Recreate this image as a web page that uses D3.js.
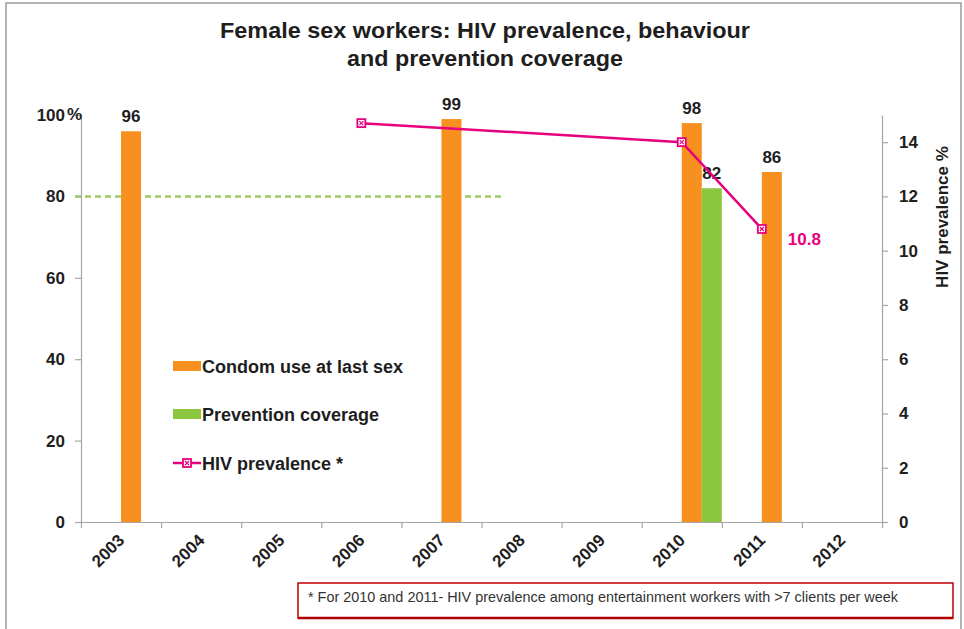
<!DOCTYPE html>
<html>
<head>
<meta charset="utf-8">
<script src="https://cdn.jsdelivr.net/npm/d3@7"></script>
<style>
  html, body { margin: 0; padding: 0; background: #fff; }
  svg { display: block; font-family: "Liberation Sans", Arial, sans-serif; }
</style>
</head>
<body>
<svg id="chart" width="964" height="629"></svg>
<script>
// ---- data ----
const years = ["2003","2004","2005","2006","2007","2008","2009","2010","2011","2012"];
const condomYears = ["2003","2007","2010","2011"];
const condomValues = [96, 99, 98, 86];
const coverageYears = ["2010"];
const coverageValues = [82];
const hivYears = ["2006","2010","2011"];
const hivValues = [14.7, 14.0, 10.8];
const targetValue = 80;
const leftTicks = [0, 20, 40, 60, 80, 100];
const rightTicks = [0, 2, 4, 6, 8, 10, 12, 14];
const titleLines = ["Female sex workers: HIV prevalence, behaviour", "and prevention coverage"];
const legendLabels = ["Condom use at last sex", "Prevention coverage", "HIV prevalence *"];
const footnote = "* For 2010 and 2011- HIV prevalence among entertainment workers with >7 clients per week";

(function () {
// ---- colours ----
const orange = "#F7901E", green = "#8CC63F", pink = "#E6007E", textCol = "#1e1e1e", axisCol = "#a6a6a6";

const svg = d3.select("#chart");
const pLeft = 81, pRight = 882, pBottom = 522, pTop = 115;

const x = d3.scaleBand().domain(years).range([pLeft, pRight]).padding(0);
const xEdge = d3.scaleLinear().domain([0, years.length]).range([pLeft, pRight]);
const yL = d3.scaleLinear().domain([0, 100]).range([pBottom, pTop]);
const yR = d3.scaleLinear().domain([0, 15]).range([pBottom, pTop]);
const bw = x.bandwidth() / 4;

// outer frame
svg.append("rect").attr("x", 6).attr("y", 3).attr("width", 955).attr("height", 660)
  .attr("fill", "none").attr("stroke", "#9a9a9a").attr("stroke-width", 1.5);

// title
const titleLens = [530, 276];
svg.append("g").selectAll("text").data(titleLines).join("text")
  .attr("x", 485).attr("y", (d, i) => 38 + i * 28)
  .attr("text-anchor", "middle").attr("font-size", 22).attr("font-weight", "bold")
  .attr("textLength", (d, i) => titleLens[i]).attr("lengthAdjust", "spacingAndGlyphs")
  .attr("fill", textCol).text(d => d);

// axes
const styleAxis = g => {
  g.selectAll(".domain").attr("stroke", axisCol).attr("stroke-width", 1.2);
  g.selectAll(".tick line").attr("stroke", axisCol).attr("stroke-width", 1.2);
  g.selectAll(".tick text").attr("fill", textCol).attr("font-weight", "bold")
    .attr("font-family", "Liberation Sans, Arial, sans-serif");
};

const gL = svg.append("g").attr("transform", `translate(${pLeft},0)`)
  .call(d3.axisLeft(yL).tickValues(leftTicks).tickSize(6).tickSizeOuter(0).tickPadding(10))
  .call(styleAxis);
gL.selectAll(".tick text").attr("font-size", 17);
svg.append("text").attr("x", 67).attr("y", yL(100) + 5).attr("font-size", 17)
  .attr("font-weight", "bold").attr("fill", textCol).text("%");

const gR = svg.append("g").attr("transform", `translate(${pRight},0)`)
  .call(d3.axisRight(yR).tickValues(rightTicks).tickSize(6).tickSizeOuter(0).tickPadding(11))
  .call(styleAxis);
gR.selectAll(".tick text").attr("font-size", 17);

svg.append("g").attr("transform", `translate(0,${pBottom})`)
  .call(d3.axisBottom(xEdge).tickValues(d3.range(0, years.length + 1)).tickFormat("").tickSize(6).tickSizeOuter(0))
  .call(styleAxis);

svg.append("g").selectAll("text").data(years).join("text")
  .attr("transform", d => `translate(${x(d) + x.bandwidth() / 2 - 4},${pBottom + 11}) rotate(-45)`)
  .attr("text-anchor", "end").attr("dy", "0.7em")
  .attr("font-size", 17).attr("font-weight", "bold").attr("fill", textCol).text(d => d);

svg.append("text").attr("transform", `translate(948,${217}) rotate(-90)`)
  .attr("text-anchor", "middle").attr("font-size", 17).attr("font-weight", "bold")
  .attr("fill", textCol).text("HIV prevalence %");

// target dashed line
svg.append("line")
  .attr("x1", pLeft - 6).attr("x2", x("2008") + bw)
  .attr("y1", yL(targetValue)).attr("y2", yL(targetValue))
  .attr("stroke", "#9ccc65").attr("stroke-width", 2.5).attr("stroke-dasharray", "6,4");

// bars
const condom = condomYears.map((y, i) => ({ year: y, v: condomValues[i] }));
const cover = coverageYears.map((y, i) => ({ year: y, v: coverageValues[i] }));

svg.append("g").selectAll("rect").data(condom).join("rect")
  .attr("x", d => x(d.year) + x.bandwidth() / 2).attr("width", bw)
  .attr("y", d => yL(d.v)).attr("height", d => pBottom - yL(d.v)).attr("fill", orange);
svg.append("g").selectAll("rect").data(cover).join("rect")
  .attr("x", d => x(d.year) + x.bandwidth() / 2 + bw).attr("width", bw)
  .attr("y", d => yL(d.v)).attr("height", d => pBottom - yL(d.v)).attr("fill", green);

// bar labels
svg.append("g").selectAll("text").data(condom).join("text")
  .attr("x", d => x(d.year) + x.bandwidth() / 2 + bw / 2).attr("y", d => yL(d.v) - 9)
  .attr("text-anchor", "middle").attr("font-size", 17).attr("font-weight", "bold")
  .attr("fill", textCol).text(d => d.v);
svg.append("g").selectAll("text").data(cover).join("text")
  .attr("x", d => x(d.year) + x.bandwidth() / 2 + bw * 1.5).attr("y", d => yL(d.v) - 9)
  .attr("text-anchor", "middle").attr("font-size", 17).attr("font-weight", "bold")
  .attr("fill", textCol).text(d => d.v);

// HIV line
const hiv = hivYears.map((y, i) => ({ year: y, v: hivValues[i] }));
const hx = d => x(d.year) + x.bandwidth() / 2;
svg.append("path").datum(hiv)
  .attr("d", d3.line().x(hx).y(d => yR(d.v)))
  .attr("fill", "none").attr("stroke", pink).attr("stroke-width", 2.5);

function marker(g, cx, cy) {
  g.append("rect").attr("x", cx - 4).attr("y", cy - 4).attr("width", 8).attr("height", 8)
    .attr("fill", "#fff").attr("stroke", pink).attr("stroke-width", 1.8);
  g.append("path").attr("d", `M${cx - 2},${cy - 2}L${cx + 2},${cy + 2}M${cx + 2},${cy - 2}L${cx - 2},${cy + 2}`)
    .attr("stroke", pink).attr("stroke-width", 1.2);
}
const gm = svg.append("g");
hiv.forEach(d => marker(gm, hx(d), yR(d.v)));

const last = hiv[hiv.length - 1];
svg.append("text").attr("x", hx(last) + 26).attr("y", yR(last.v) + 16)
  .attr("font-size", 17).attr("font-weight", "bold").attr("fill", pink).text(last.v.toFixed(1));

// legend
const lg = svg.append("g");
const lx = 173, ly = [366, 414, 463];
lg.append("rect").attr("x", lx).attr("y", ly[0] - 5).attr("width", 28).attr("height", 10).attr("fill", orange);
lg.append("rect").attr("x", lx).attr("y", ly[1] - 5).attr("width", 28).attr("height", 10).attr("fill", green);
lg.append("line").attr("x1", lx).attr("x2", lx + 28).attr("y1", ly[2]).attr("y2", ly[2])
  .attr("stroke", pink).attr("stroke-width", 2.5);
marker(lg, lx + 14, ly[2]);
lg.selectAll("text").data(legendLabels).join("text")
  .attr("x", lx + 29).attr("y", (d, i) => ly[i] + 6.5)
  .attr("font-size", 18).attr("font-weight", "bold").attr("fill", textCol).text(d => d);

// footnote box
svg.append("rect").attr("x", 298).attr("y", 583).attr("width", 655).attr("height", 35)
  .attr("fill", "#fff").attr("stroke", "#c00000").attr("stroke-width", 1.5);
svg.append("line").attr("x1", 298).attr("x2", 953).attr("y1", 618).attr("y2", 618)
  .attr("stroke", "#b00000").attr("stroke-width", 2.5);
svg.append("text").attr("x", 308).attr("y", 602).attr("font-size", 14.5)
  .attr("textLength", 590).attr("lengthAdjust", "spacingAndGlyphs")
  .attr("fill", "#333").text(footnote);
})();
</script>
</body>
</html>
